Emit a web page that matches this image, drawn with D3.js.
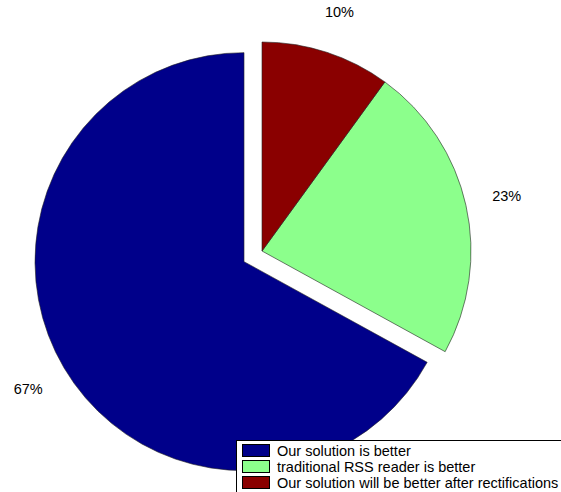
<!DOCTYPE html>
<html>
<head>
<meta charset="utf-8">
<script src="https://cdn.jsdelivr.net/npm/d3@7"></script>
<style>
  html, body { margin: 0; padding: 0; background: #fff; }
  svg { display: block; font-family: "Liberation Sans", Arial, sans-serif; }
</style>
</head>
<body>
<svg id="chart" width="561" height="492"></svg>
<script>
// Survey answers, in legend order
const categories = [
  "Our solution is better",
  "traditional RSS reader is better",
  "Our solution will be better after rectifications"
];
const shares = [67, 23, 10];
const sliceLabels = ["67%", "23%", "10%"];
const sliceColors = ["#00008a", "#8cff8c", "#8a0000"];
const exploded = [true, false, false];

const W = 561, H = 492;
const cx = 262, cy = 251, R = 209;
const explodeFrac = 0.1, labelFrac = 1.2;

const svg = d3.select("#chart");

// Slices run counter-clockwise from 12 o'clock
const pie = d3.pie().sort(null).startAngle(0).endAngle(-2 * Math.PI);
const arcs = pie(shares);
const arc = d3.arc().innerRadius(0).outerRadius(R);

const g = svg.append("g").attr("transform", `translate(${cx},${cy})`);

arcs.forEach((a, i) => {
  const mid = (a.startAngle + a.endAngle) / 2;
  const ux = Math.sin(mid), uy = -Math.cos(mid);
  const off = exploded[i] ? explodeFrac * R : 0;
  const ox = ux * off, oy = uy * off;

  g.append("path")
    .attr("d", arc(a))
    .attr("transform", `translate(${ox},${oy})`)
    .attr("fill", sliceColors[i])
    .attr("stroke", "#222")
    .attr("stroke-width", 0.6);

  g.append("text")
    .attr("x", ox + ux * labelFrac * R)
    .attr("y", oy + uy * labelFrac * R)
    .attr("text-anchor", "middle")
    .attr("dominant-baseline", "central")
    .attr("font-size", "14.5px")
    .attr("fill", "#000")
    .text(sliceLabels[i]);
});

// Legend box
const lx = 236.5, ly = 440.5;
const legend = svg.append("g");
legend.append("rect")
  .attr("x", lx).attr("y", ly)
  .attr("width", W - lx + 20).attr("height", 80)
  .attr("fill", "#fff")
  .attr("stroke", "#000")
  .attr("stroke-width", 1);

const rowStep = 16;
categories.forEach((c, i) => {
  const y0 = ly + 4 + i * rowStep;
  legend.append("rect")
    .attr("x", 242.5).attr("y", y0)
    .attr("width", 27).attr("height", 12)
    .attr("fill", sliceColors[i])
    .attr("stroke", "#000")
    .attr("stroke-width", 1);
  legend.append("text")
    .attr("x", 277)
    .attr("y", y0 + 11)
    .attr("font-size", "14.5px")
    .attr("fill", "#000")
    .text(c);
});
</script>
</body>
</html>
